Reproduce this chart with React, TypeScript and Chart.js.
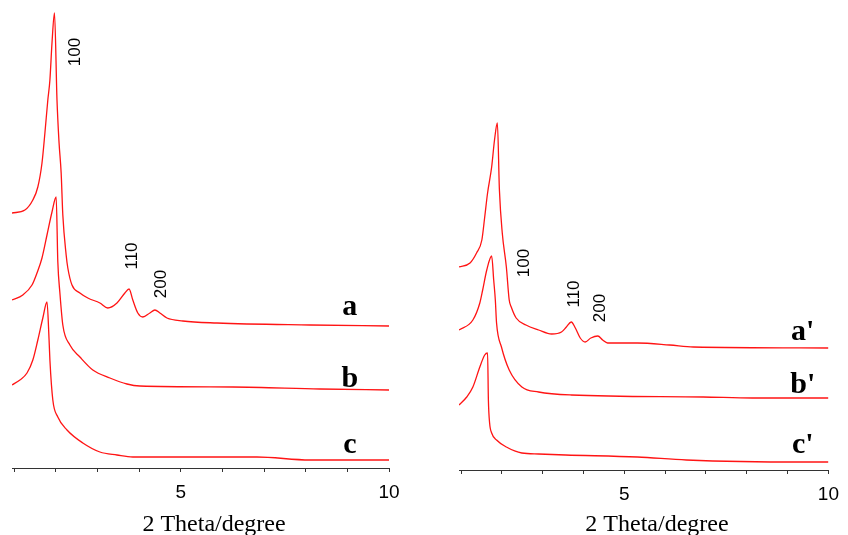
import React, { useEffect, useRef } from "react";
import { Chart, registerables } from "chart.js";

Chart.register(...registerables);

// ---------- Left panel (a, b, c) ----------
const A_2THETA = [0.95, 1.26, 1.45, 1.57, 1.67, 1.74, 1.81, 1.86, 1.91, 1.97, 2.03, 2.08, 2.13, 2.17, 2.25, 2.29, 2.39, 2.58, 2.77, 3.06, 3.25, 3.47, 3.66, 3.76, 3.85, 3.97, 4.09, 4.26, 4.38, 4.5, 4.67, 5.05, 5.87, 8.1, 10.0];
const A_INTENSITY = [255, 258, 268, 281, 305, 335, 368, 388, 425, 455, 368, 325, 295, 253, 213, 200, 183, 175, 170, 165, 160, 165, 175, 179, 168, 155, 151, 155, 158, 155, 150, 147, 145, 143, 142];

const B_2THETA = [0.95, 1.21, 1.43, 1.55, 1.67, 1.79, 1.91, 2.01, 2.05, 2.1, 2.17, 2.34, 2.58, 2.89, 3.3, 3.71, 4.02, 6.25, 8.34, 10.0];
const B_INTENSITY = [168, 173, 183, 195, 210, 233, 256, 271, 206, 175, 143, 123, 111, 98, 90, 84, 82, 81, 79, 78];

const C_2THETA = [0.95, 1.14, 1.31, 1.45, 1.57, 1.69, 1.79, 1.84, 1.86, 1.93, 2.05, 2.27, 2.65, 3.06, 3.47, 3.85, 6.83, 8.1, 10.0];
const C_INTENSITY = [83, 88, 95, 108, 128, 150, 166, 128, 108, 68, 51, 38, 25, 16, 13, 11, 11, 8, 8];

// ---------- Right panel (a', b', c') ----------
const AP_2THETA = [0.95, 1.22, 1.38, 1.51, 1.58, 1.65, 1.75, 1.82, 1.89, 1.94, 2.01, 2.11, 2.18, 2.23, 2.35, 2.59, 2.9, 3.22, 3.46, 3.58, 3.7, 3.8, 3.92, 4.04, 4.18, 4.35, 4.47, 4.59, 5.32, 6.11, 6.69, 10.0];
const AP_INTENSITY = [203, 207, 217, 230, 253, 277, 303, 330, 347, 280, 237, 203, 170, 163, 152, 145, 140, 136, 138, 143, 148, 142, 132, 128, 132, 134, 130, 127, 127, 125, 123, 122];

const BP_2THETA = [0.95, 1.29, 1.46, 1.53, 1.63, 1.75, 1.8, 1.84, 1.87, 1.99, 2.18, 2.49, 2.9, 3.7, 6.93, 8.14, 10.0];
const BP_INTENSITY = [140, 150, 167, 180, 200, 214, 190, 170, 147, 123, 100, 83, 78, 75, 73, 72, 72];

const CP_2THETA = [0.95, 1.14, 1.29, 1.46, 1.58, 1.65, 1.67, 1.7, 1.75, 1.87, 2.11, 2.49, 2.9, 3.56, 5.32, 6.52, 9.35, 10.0];
const CP_INTENSITY = [65, 73, 83, 103, 115, 117, 70, 47, 37, 30, 23, 17, 16, 15, 13, 10, 8, 8];

// ---------- Axis ----------
const X_TICK_VALUES = [1, 2, 3, 4, 5, 6, 7, 8, 9, 10];
const X_TICK_LABELS = ["", "", "", "", "5", "", "", "", "", "10"];
const X_TITLE = "2 Theta/degree";

// ---------- Text labels ----------
const LEFT_CURVE_NAMES = ["a", "b", "c"];
const RIGHT_CURVE_NAMES = ["a'", "b'", "c'"];
const PEAK_NAMES = ["100", "110", "200"];

// label anchor positions in data coordinates (2θ, intensity)
const LEFT_NAME_POS = [[9.06, 153], [9.06, 81], [9.06, 15]];
const RIGHT_NAME_POS = [[9.37, 130], [9.37, 77], [9.37, 17]];
const LEFT_PEAK_POS = [[2.46, 416], [3.85, 212], [4.53, 184]];
const RIGHT_PEAK_POS = [[2.54, 207], [3.77, 176], [4.42, 162]];
const TITLE_CENTER_2THETA = 5.8;

const RED = "rgb(255,20,20)";

type Lbl = { text: string; x: number; y: number; rot: number; font: string; align: CanvasTextAlign; base: CanvasTextBaseline };

const labelPlugin = {
  id: "xrdLabels",
  afterDraw(chart: any, _args: any, opts: any) {
    const labels: Lbl[] = opts.labels || [];
    const ctx = chart.ctx;
    const xs = chart.scales.x;
    const ys = chart.scales.y;
    labels.forEach((l) => {
      ctx.save();
      ctx.translate(xs.getPixelForValue(l.x), ys.getPixelForValue(l.y));
      ctx.rotate(l.rot);
      ctx.font = l.font;
      ctx.fillStyle = "#000";
      ctx.textAlign = l.align;
      ctx.textBaseline = l.base;
      ctx.fillText(l.text, 0, 0);
      ctx.restore();
    });
    // axis title, under the x axis
    ctx.save();
    ctx.font = "24px 'Liberation Serif'";
    ctx.fillStyle = "#000";
    ctx.textAlign = "center";
    ctx.textBaseline = "alphabetic";
    ctx.fillText(opts.title, xs.getPixelForValue(opts.titleX), chart.height - 4);
    ctx.restore();
  },
};

function makeDataset(xs: number[], ys: number[]) {
  return {
    data: xs.map((x, i) => ({ x, y: ys[i] })),
    borderColor: RED,
    borderWidth: 1.3,
    pointRadius: 0,
    fill: false,
    tension: 0.25,
    cubicInterpolationMode: "monotone" as const,
  };
}

function buildConfig(series: [number[], number[]][], labels: Lbl[], padLeft: number, padRight: number, padTop: number, axisHeight: number) {
  return {
    type: "line" as const,
    data: { datasets: series.map(([x, y]) => makeDataset(x, y)) },
    plugins: [labelPlugin],
    options: {
      animation: false as const,
      responsive: false,
      devicePixelRatio: 1,
      layout: { padding: { left: padLeft, right: padRight, top: padTop, bottom: 0 } },
      plugins: {
        legend: { display: false },
        tooltip: { enabled: false },
        xrdLabels: { labels, title: X_TITLE, titleX: TITLE_CENTER_2THETA },
      },
      scales: {
        x: {
          type: "linear" as const,
          min: 0.95,
          max: 10,
          afterBuildTicks: (scale: any) => {
            scale.ticks = X_TICK_VALUES.map((v) => ({ value: v }));
          },
          afterFit: (scale: any) => {
            scale.height = axisHeight;
          },
          ticks: {
            autoSkip: false,
            maxRotation: 0,
            padding: 9,
            color: "#000",
            font: { family: "Liberation Sans", size: 19 },
            callback: (value: any) => {
              const i = X_TICK_VALUES.indexOf(Number(value));
              return i >= 0 ? X_TICK_LABELS[i] : "";
            },
          },
          grid: {
            drawOnChartArea: false,
            drawTicks: true,
            tickLength: 4,
            tickColor: "#333",
            tickWidth: 1,
          },
          border: { display: true, color: "#333", width: 1 },
          title: { display: false },
        },
        y: {
          type: "linear" as const,
          display: false,
          min: 0,
          max: 460,
        },
      },
    },
  };
}

function mkLabels(names: string[], pos: number[][], peaks: string[], peakPos: number[][]): Lbl[] {
  const out: Lbl[] = [];
  names.forEach((t, i) =>
    out.push({ text: t, x: pos[i][0], y: pos[i][1], rot: 0, font: "bold 30px 'Liberation Serif'", align: "center", base: "alphabetic" })
  );
  peaks.forEach((t, i) =>
    out.push({ text: t, x: peakPos[i][0], y: peakPos[i][1], rot: -Math.PI / 2, font: "17px 'Liberation Sans'", align: "center", base: "middle" })
  );
  return out;
}

export default function App() {
  const leftRef = useRef<HTMLCanvasElement>(null);
  const rightRef = useRef<HTMLCanvasElement>(null);

  useEffect(() => {
    const left = new Chart(
      leftRef.current as HTMLCanvasElement,
      buildConfig(
        [[A_2THETA, A_INTENSITY], [B_2THETA, B_INTENSITY], [C_2THETA, C_INTENSITY]],
        mkLabels(LEFT_CURVE_NAMES, LEFT_NAME_POS, PEAK_NAMES, LEFT_PEAK_POS),
        12, 35, 8, 67
      ) as any
    );
    const right = new Chart(
      rightRef.current as HTMLCanvasElement,
      buildConfig(
        [[AP_2THETA, AP_INTENSITY], [BP_2THETA, BP_INTENSITY], [CP_2THETA, CP_INTENSITY]],
        mkLabels(RIGHT_CURVE_NAMES, RIGHT_NAME_POS, PEAK_NAMES, RIGHT_PEAK_POS),
        35, 14, 10, 65
      ) as any
    );
    return () => {
      left.destroy();
      right.destroy();
    };
  }, []);

  return (
    <div style={{ position: "fixed", left: 0, top: 0, width: 848, height: 535, background: "#fff" }}>
      <canvas ref={leftRef} width={424} height={535} style={{ position: "absolute", left: 0, top: 0, width: 424, height: 535 }} />
      <canvas ref={rightRef} width={424} height={535} style={{ position: "absolute", left: 424, top: 0, width: 424, height: 535 }} />
    </div>
  );
}
